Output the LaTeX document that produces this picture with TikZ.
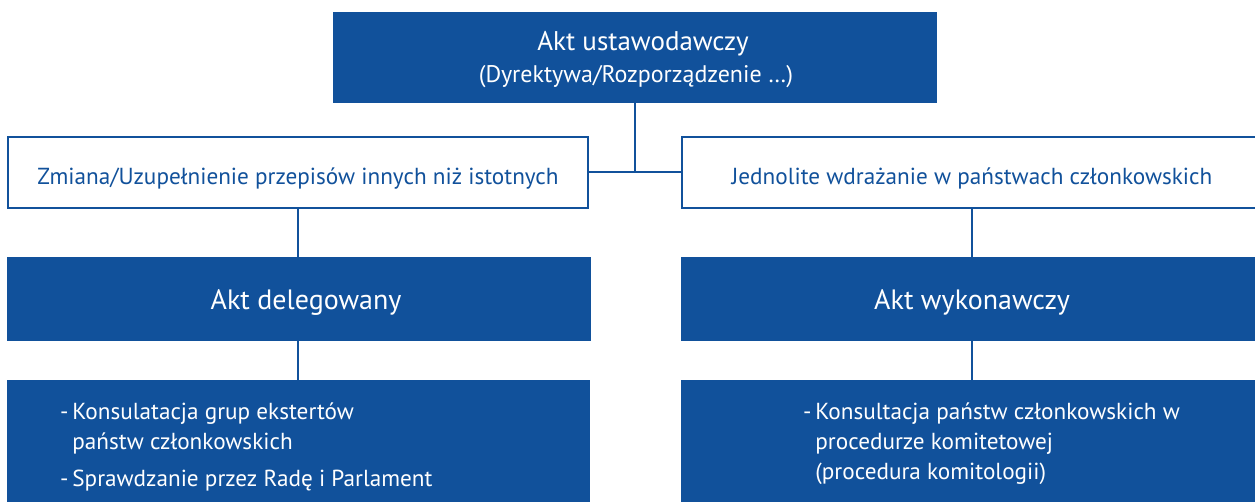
\documentclass[tikz,border=0pt]{standalone}
\usepackage{fontspec}
\setmainfont{PT Sans}
\definecolor{euBlue}{RGB}{17,81,155}
\begin{document}
\begin{tikzpicture}[x=1pt,y=-1pt,
  darkbox/.style={draw=none,fill=euBlue,inner sep=0pt},
  whitebox/.style={draw=euBlue,line width=2pt,fill=white,inner sep=0pt},
  conn/.style={draw=euBlue,line width=2pt},
  wlabel/.style={text=white,inner sep=0pt,anchor=base},
  blabel/.style={text=euBlue,inner sep=0pt,anchor=base},
  bigtext/.style={font=\fontsize{28}{34}\selectfont},
  midtext/.style={font=\fontsize{23.2}{28}\selectfont},
  bullettext/.style={text=white,inner sep=0pt,align=left,anchor=north west,font=\fontsize{23.2}{30}\selectfont}
]
\useasboundingbox (0,0) rectangle (1255,502);
\begin{scope}
\clip (0,0) rectangle (1255,502);
% top
\node[darkbox,minimum width=604pt,minimum height=91pt] (top) at (635,57.5) {};
\node[wlabel,font=\fontsize{27}{32}\selectfont] (topA) at (643,50.5) {Akt ustawodawczy};
\node[wlabel,font=\fontsize{24}{28}\selectfont] (topB) at (636,83) {(Dyrektywa/Rozporządzenie …)};
% middle
\node[whitebox,minimum width=580pt,minimum height=71pt] (midL) at (298,172.5) {};
\node[blabel,midtext] (midLtext) at (298,185) {Zmiana/Uzupełnienie przepisów innych niż istotnych};
\node[whitebox,minimum width=580pt,minimum height=71pt] (midR) at (972,172.5) {};
\node[blabel,midtext] (midRtext) at (972,185) {Jednolite wdrażanie w państwach członkowskich};
% akt
\node[darkbox,minimum width=584pt,minimum height=84pt] (delL) at (299,299) {};
\node[wlabel,bigtext] (delLtext) at (306,310) {Akt delegowany};
\node[darkbox,minimum width=582pt,minimum height=84pt] (delR) at (972,299) {};
\node[wlabel,bigtext] (delRtext) at (972,310) {Akt wykonawczy};
% bottom
\node[darkbox,minimum width=583pt,minimum height=140pt] (botL) at (298.5,450) {};
\node[darkbox,minimum width=582pt,minimum height=140pt] (botR) at (972,450) {};
\node[bullettext] (botLtext) at (60,398) {%
  \begin{tabular}{@{}l@{\,}l@{}}
  - & Konsulatacja grup ekstertów\\
    & państw członkowskich\\[7pt]
  - & Sprawdzanie przez Radę i Parlament
  \end{tabular}};
\node[bullettext] (botRtext) at (803,398) {%
  \begin{tabular}{@{}l@{\,}l@{}}
  - & Konsultacja państw członkowskich w\\
    & procedurze komitetowej\\
    & (procedura komitologii)
  \end{tabular}};
% connectors
\coordinate (junc) at (top.south |- midL.east);
\draw[conn] (top.south) -- (junc);
\draw[conn] (midL.east) -- (midR.west);
\draw[conn] (midL.south) -- (delL.north -| midL.south);
\draw[conn] (midR.south) -- (delR.north);
\draw[conn] (delL.south -| midL.south) -- (botL.north -| midL.south);
\draw[conn] (delR.south) -- (botR.north);
\end{scope}
\end{tikzpicture}
\end{document}
